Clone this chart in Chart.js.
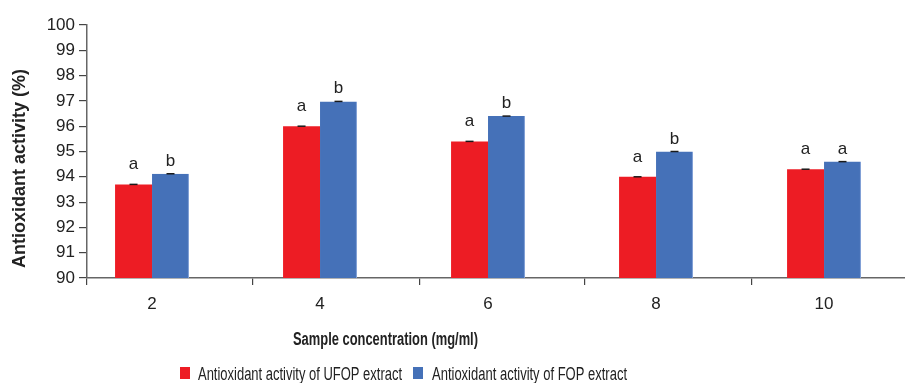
<!DOCTYPE html>
<html>
<head>
<meta charset="utf-8">
<script src="https://cdn.jsdelivr.net/npm/chart.js@4/dist/chart.umd.min.js"></script>
<style>
  html, body { margin: 0; padding: 0; background: #fff; overflow: hidden; }
</style>
</head>
<body>
<canvas id="chart" width="905" height="383"></canvas>
<script>
// data
const concentrations = [2, 4, 6, 8, 10];
const ufopValues = [93.7, 96.0, 95.4, 94.0, 94.3];
const fopValues = [94.12, 96.98, 96.4, 95.0, 94.6];
const ufopLetters = ["a", "a", "a", "a", "a"];
const fopLetters = ["b", "b", "b", "b", "a"];
const seriesNames = ["Antioxidant activity of UFOP extract", "Antioxidant activity of FOP extract"];
const yTickValues = [90, 91, 92, 93, 94, 95, 96, 97, 98, 99, 100];
const boundaryTicks = [1.226, 3.2, 5.18, 7.15, 9.14];

const RED = "#ed1c24";
const BLUE = "#4571b8";
const FONT = '"Liberation Sans", Arial, sans-serif';

const annotate = {
  id: "annotate",
  afterDatasetsDraw(chart) {
    const ctx = chart.ctx;
    ctx.save();
    chart.data.datasets.forEach((ds, d) => {
      const meta = chart.getDatasetMeta(d);
      meta.data.forEach((bar, i) => {
        // little error cap on top of each bar
        ctx.strokeStyle = "#1a1a1a";
        ctx.lineWidth = 1.5;
        ctx.beginPath();
        ctx.moveTo(bar.x - 4, bar.y);
        ctx.lineTo(bar.x + 4, bar.y);
        ctx.stroke();
        // significance letter
        ctx.fillStyle = "#222";
        ctx.font = "17px " + FONT;
        ctx.textAlign = "center";
        ctx.textBaseline = "alphabetic";
        ctx.fillText(ds.letters[i], bar.x, bar.y - ds.letterGap);
      });
    });
    ctx.restore();
  },
  afterDraw(chart) {
    const ctx = chart.ctx;
    ctx.save();
    ctx.fillStyle = "#222";
    ctx.textBaseline = "middle";

    // y title
    ctx.save();
    ctx.translate(20, 168.5);
    ctx.rotate(-Math.PI / 2);
    ctx.font = "bold 18px " + FONT;
    ctx.textAlign = "center";
    ctx.fillText("Antioxidant activity (%)", 0, 0, 207);
    ctx.restore();

    // x title
    ctx.font = "bold 18px " + FONT;
    ctx.textAlign = "center";
    ctx.fillText("Sample concentration (mg/ml)", 385.5, 340, 185);

    // legend
    ctx.textAlign = "left";
    ctx.font = "18px " + FONT;
    const items = [
      { box: 180, text: 198, w: 204 },
      { box: 413, text: 432, w: 195 }
    ];
    chart.data.datasets.forEach((ds, d) => {
      const it = items[d];
      ctx.fillStyle = ds.backgroundColor;
      ctx.fillRect(it.box, 367, 10, 12);
      ctx.fillStyle = "#222";
      ctx.fillText(seriesNames[d], it.text, 375, it.w);
    });
    ctx.restore();
  }
};

new Chart(document.getElementById("chart"), {
  type: "bar",
  data: {
    datasets: [
      {
        label: seriesNames[0],
        data: concentrations.map((c, i) => ({ x: c, y: ufopValues[i] })),
        backgroundColor: RED,
        letters: ufopLetters,
        letterGap: 15,
        categoryPercentage: 0.44,
        barPercentage: 1.0
      },
      {
        label: seriesNames[1],
        data: concentrations.map((c, i) => ({ x: c, y: fopValues[i] })),
        backgroundColor: BLUE,
        borderColor: "#7f9fd6",
        borderWidth: { right: 1 },
        letters: fopLetters,
        letterGap: 8,
        categoryPercentage: 0.44,
        barPercentage: 1.0
      }
    ]
  },
  options: {
    responsive: false,
    animation: false,
    layout: { padding: { top: 25, left: 0, right: 0, bottom: 0 } },
    plugins: {
      legend: { display: false },
      tooltip: { enabled: false }
    },
    scales: {
      x: {
        type: "linear",
        position: "bottom",
        weight: 1,
        offset: false,
        min: 1.226,
        max: 10.964,
        afterBuildTicks: (s) => { s.ticks = concentrations.map((v) => ({ value: v })); },
        afterFit: (s) => { s.height = 98; },
        grid: { display: false, offset: false },
        border: { display: false },
        ticks: {
          color: "#222",
          font: { size: 17, family: FONT },
          padding: 1,
          callback: (v) => String(v)
        }
      },
      x2: {
        type: "linear",
        position: "bottom",
        weight: 0,
        offset: false,
        min: 1.226,
        max: 10.964,
        afterBuildTicks: (s) => { s.ticks = boundaryTicks.map((v) => ({ value: v })); },
        grid: { drawOnChartArea: false, drawTicks: true, tickLength: 7, color: "#444", lineWidth: 1.2, offset: false },
        border: { display: true, color: "#666", width: 1.5 },
        ticks: { display: false }
      },
      y: {
        min: 90,
        max: 100,
        afterBuildTicks: (s) => { s.ticks = yTickValues.map((v) => ({ value: v })); },
        afterFit: (s) => { s.width = 87; },
        grid: { drawOnChartArea: false, drawTicks: true, tickLength: 8, color: "#444", lineWidth: 1.2 },
        border: { display: true, color: "#666", width: 1.5 },
        ticks: {
          color: "#222",
          font: { size: 17, family: FONT },
          padding: 4
        }
      }
    }
  },
  plugins: [annotate]
});
</script>
</body>
</html>
